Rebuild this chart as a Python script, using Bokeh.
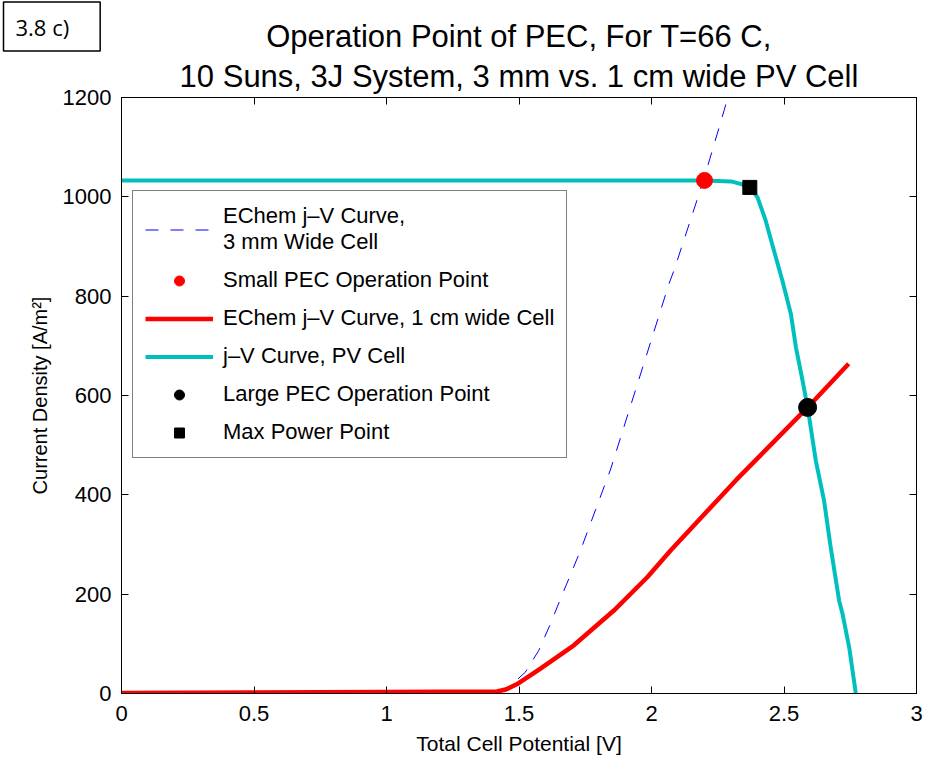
from bokeh.plotting import figure
from bokeh.models import (Legend, LegendItem, LinearAxis, FixedTicker, Label, Title, Range1d)
from bokeh.embed import file_html
from bokeh.resources import INLINE

# ---- data ----
pv_v = [0.0, 0.5, 1.0, 1.5, 2.0, 2.2, 2.30, 2.336, 2.371, 2.40, 2.431, 2.462, 2.494,
        2.526, 2.545, 2.570, 2.591, 2.62, 2.651, 2.676, 2.708, 2.721, 2.746, 2.771]
pv_j = [1033, 1033, 1033, 1033, 1033, 1033, 1031, 1026, 1019, 999, 952, 892, 831,
        764, 697, 630, 570, 469, 389, 295, 187, 160, 93, 0]

ec1cm_v = [0.0, 0.5, 1.0, 1.417, 1.45, 1.493, 1.581, 1.707, 1.858, 1.984, 2.072, 2.318, 2.589, 2.744]
ec1cm_j = [1, 2, 3, 4, 8, 19, 50, 97, 167, 234, 288, 429, 576, 664]

ec3mm_v = [1.417, 1.46, 1.493, 1.524, 1.575, 1.616, 1.657, 1.732, 1.846, 2.066, 2.085, 2.196, 2.274, 2.29]
ec3mm_j = [4, 12, 28, 43, 87, 137, 191, 288, 452, 825, 852, 1033, 1174, 1205]

small_op_v = [2.20]
small_op_j = [1033]
large_op_v = [2.589]
large_op_j = [576]
mpp_v = [2.371]
mpp_j = [1019]

x_ticks = [0, 0.5, 1, 1.5, 2, 2.5, 3]
x_tick_labels = ["0", "0.5", "1", "1.5", "2", "2.5", "3"]
y_ticks = [0, 200, 400, 600, 800, 1000, 1200]
y_tick_labels = ["0", "200", "400", "600", "800", "1000", "1200"]

title_line1 = "Operation Point of PEC, For T=66 C,"
title_line2 = "10 Suns, 3J System, 3 mm vs. 1 cm wide PV Cell"
panel_tag = "3.8 c)"

FONT = "Liberation Sans"
CYAN = "#00BFBF"
RED = "#FF0000"
BLUE = "#0000FF"

p = figure(frame_width=795, frame_height=596, output_backend="svg", toolbar_location=None,
           x_range=Range1d(0, 3), y_range=Range1d(0, 1200),
           min_border_left=121, min_border_right=3, min_border_top=97, min_border_bottom=64)
p.background_fill_color = "white"
p.border_fill_color = "white"
p.outline_line_color = "black"
p.outline_line_width = 1
p.grid.visible = False

p.title = Title(text=title_line1, align="center", text_font=FONT, text_font_size="31px",
                text_font_style="normal", text_color="black", standoff=0, text_line_height=1.0)

def style_axis(ax, ticks, labels, show_labels=True):
    ax.ticker = FixedTicker(ticks=ticks)
    ax.major_label_overrides = {t: l for t, l in zip(ticks, labels)}
    ax.major_tick_in = 7
    ax.major_tick_out = 0
    ax.minor_tick_line_color = None
    ax.axis_line_color = "black"
    ax.major_tick_line_color = "black"
    ax.major_label_text_font = FONT
    if show_labels:
        ax.major_label_text_color = "black"
        ax.major_label_text_font_size = "22px"
    else:
        ax.major_label_text_color = None
        ax.major_label_text_font_size = "1px"
        ax.major_label_standoff = 0

style_axis(p.xaxis[0], x_ticks, x_tick_labels)
style_axis(p.yaxis[0], y_ticks, y_tick_labels)
p.xaxis[0].major_label_standoff = 12
p.yaxis[0].major_label_standoff = 10
p.xaxis[0].axis_label = "Total Cell Potential [V]"
p.xaxis[0].axis_label_text_font = FONT
p.xaxis[0].axis_label_text_font_size = "21px"
p.xaxis[0].axis_label_text_font_style = "normal"
p.xaxis[0].axis_label_text_color = "black"
p.xaxis[0].axis_label_standoff = 8
p.yaxis[0].axis_label = "Current Density [A/m²]"
p.yaxis[0].axis_label_text_font = FONT
p.yaxis[0].axis_label_text_font_size = "20px"
p.yaxis[0].axis_label_text_font_style = "normal"
p.yaxis[0].axis_label_text_color = "black"
p.yaxis[0].axis_label_standoff = 9

top_ax = LinearAxis()
style_axis(top_ax, x_ticks, x_tick_labels, show_labels=False)
p.add_layout(top_ax, "above")
right_ax = LinearAxis()
style_axis(right_ax, y_ticks, y_tick_labels, show_labels=False)
p.add_layout(right_ax, "right")

p.add_layout(Title(text=title_line2, align="center", text_font=FONT, text_font_size="31px",
                   text_font_style="normal", text_color="black", standoff=7,
                   text_line_height=1.0), "above")

r_ec3 = p.line(ec3mm_v, ec3mm_j, line_color=BLUE, line_width=1, line_dash="13 12")
r_ec1 = p.line(ec1cm_v, ec1cm_j, line_color=RED, line_width=4.5, line_join="round")
r_pv = p.line(pv_v, pv_j, line_color=CYAN, line_width=4, line_join="round")
r_small = p.scatter(small_op_v, small_op_j, marker="circle", size=16, fill_color=RED, line_color=RED)
r_mpp = p.scatter(mpp_v, mpp_j, marker="square", size=14, fill_color="black", line_color="black")
r_large = p.scatter(large_op_v, large_op_j, marker="circle", size=18, fill_color="black", line_color="black")

legend = Legend(items=[
    LegendItem(label="EChem j–V Curve,\n3 mm Wide Cell", renderers=[r_ec3]),
    LegendItem(label="Small PEC Operation Point", renderers=[r_small]),
    LegendItem(label="EChem j–V Curve, 1 cm wide Cell", renderers=[r_ec1]),
    LegendItem(label="j–V Curve, PV Cell", renderers=[r_pv]),
    LegendItem(label="Large PEC Operation Point", renderers=[r_large]),
    LegendItem(label="Max Power Point", renderers=[r_mpp]),
], location=(11, 235), border_line_color="black", border_line_width=1,
   background_fill_color="white", background_fill_alpha=1.0,
   label_text_font=FONT, label_text_font_size="22px", label_text_color="black",
   glyph_width=68, glyph_height=25, label_height=25, label_standoff=10,
   padding=12, spacing=12, margin=0)
p.add_layout(legend)

# panel tag: lives in the right side panel (its slot is off-screen to the right),
# drawn at the top-left corner of the canvas in panel-relative screen units
tag = Label(x=-913, y=667, x_units="screen", y_units="screen", text=panel_tag,
            text_font="Open Sans", text_font_size="22px", text_color="black",
            text_baseline="middle", text_align="left",
            border_line_color="black", border_line_width=1.5,
            background_fill_color="white",
            padding=dict(left=12, right=31, top=10, bottom=9))
p.add_layout(tag, "right")

open("out.html", "w").write(file_html(p, INLINE))
